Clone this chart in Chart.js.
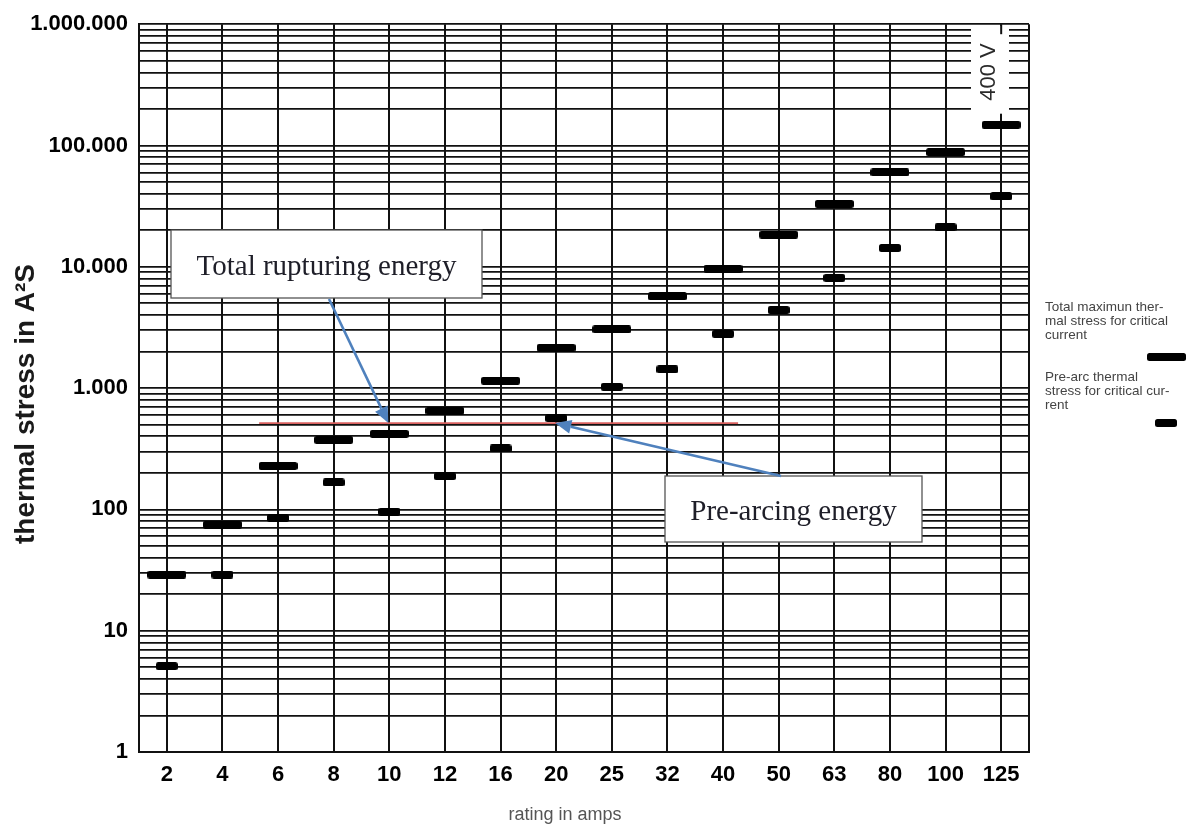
<!DOCTYPE html>
<html><head><meta charset="utf-8">
<script src="https://cdn.jsdelivr.net/npm/chart.js@4.4.1/dist/chart.umd.min.js"></script>
<style>html,body{margin:0;padding:0;background:#fff;}canvas{display:block;}</style>
</head><body>
<canvas id="c" width="1190" height="828"></canvas>
<script>
// ---- data ----
const ratings = ['2','4','6','8','10','12','16','20','25','32','40','50','63','80','100','125'];
const totalStress = [29, 75, 228, 374, 420, 650, 1150, 2150, 3050, 5700, 9650, 18400, 33000, 60000, 88000, 148000];
const preArcStress = [5.1, 29, 85, 167, 96, 188, 318, 566, 1025, 1430, 2800, 4400, 8100, 14300, 21200, 38000];
const yDecades = [1, 10, 100, 1000, 10000, 100000, 1000000];
const yDecadeLabels = ['1', '10', '100', '1.000', '10.000', '100.000', '1.000.000'];
const yMinorSteps = [2, 3, 4, 5, 6, 7, 8, 9];
const refLevel = 515;
const legendTotalLines = ['Total maximun ther-', 'mal stress for critical', 'current'];
const legendPreLines = ['Pre-arc thermal', 'stress for critical cur-', 'rent'];
const xTitle = 'rating in amps';
const yTitle = 'thermal stress in A\u00B2S';
const voltageLabel = '400 V';
const noteTotal = 'Total rupturing energy';
const notePre = 'Pre-arcing energy';

// gridline tick values for log axis
const yTickValues = [];
yDecades.forEach((d, i) => {
  yTickValues.push(d);
  if (i < yDecades.length - 1) yMinorSteps.forEach(m => yTickValues.push(m * d));
});

function barImage(w, h) {
  const c = document.createElement('canvas');
  c.width = w; c.height = h;
  const g = c.getContext('2d');
  g.fillStyle = '#000';
  g.beginPath();
  if (g.roundRect) g.roundRect(0, 0, w, h, 2.5); else g.rect(0, 0, w, h);
  g.fill();
  return c;
}
const totalImg = barImage(39, 8);
const preImg = barImage(22, 8);

const SANS = '"Liberation Sans", Arial, Helvetica, sans-serif';
const SERIF = '"Liberation Serif", "Times New Roman", serif';

function arrow(g, x1, y1, x2, y2) {
  const ang = Math.atan2(y2 - y1, x2 - x1);
  const hl = 16, hw = 7;
  const bx = x2 - Math.cos(ang) * hl, by = y2 - Math.sin(ang) * hl;
  g.strokeStyle = '#4f81bd';
  g.fillStyle = '#4f81bd';
  g.lineWidth = 2.6;
  g.beginPath(); g.moveTo(x1, y1); g.lineTo(bx, by); g.stroke();
  g.beginPath();
  g.moveTo(x2, y2);
  g.lineTo(bx + Math.sin(ang) * hw, by - Math.cos(ang) * hw);
  g.lineTo(bx - Math.sin(ang) * hw, by + Math.cos(ang) * hw);
  g.closePath(); g.fill();
}

function noteBox(g, x, y, w, h, text, baseline) {
  g.fillStyle = '#fff';
  g.fillRect(x, y, w, h);
  g.strokeStyle = '#555';
  g.lineWidth = 1.3;
  g.strokeRect(x, y, w, h);
  g.fillStyle = '#1e1e28';
  g.font = '29px ' + SERIF;
  g.textAlign = 'center';
  g.textBaseline = 'alphabetic';
  g.fillText(text, x + w / 2, baseline);
}

const annotPlugin = {
  id: 'annot',
  afterDraw(chart) {
    const g = chart.ctx, a = chart.chartArea;
    const xs = chart.scales.x, ys = chart.scales.y;
    g.save();
    // right border
    g.strokeStyle = '#111'; g.lineWidth = 2;
    g.beginPath(); g.moveTo(a.right, a.top); g.lineTo(a.right, a.bottom); g.stroke();
    // 400 V box
    const x125 = xs.getPixelForValue(15);
    g.fillStyle = '#fff';
    g.fillRect(971, a.top + 1.5, 38, 88);
    g.strokeStyle = '#111'; g.lineWidth = 2;
    g.beginPath(); g.moveTo(x125, a.top); g.lineTo(x125, a.top + 10); g.stroke();
    g.save();
    g.translate(989, 72);
    g.rotate(-Math.PI / 2);
    g.fillStyle = '#2a2a2a';
    g.font = '22px ' + SANS;
    g.textAlign = 'center'; g.textBaseline = 'middle';
    g.fillText(voltageLabel, 0, 0);
    g.restore();
    // reference red line
    const yRef = ys.getPixelForValue(refLevel);
    g.strokeStyle = '#d9615f'; g.lineWidth = 1.8;
    g.beginPath();
    g.moveTo(xs.getPixelForValue(1.66), yRef);
    g.lineTo(xs.getPixelForValue(10.27), yRef);
    g.stroke();
    // notes
    noteBox(g, 171, 230, 311, 68, noteTotal, 275);
    noteBox(g, 665, 476, 257, 66, notePre, 520);
    arrow(g, 329, 299, xs.getPixelForValue(4) - 1, yRef);
    arrow(g, 781, 476, xs.getPixelForValue(7) - 1, yRef);
    // legend
    g.fillStyle = '#444';
    g.font = '13.5px ' + SANS;
    g.textAlign = 'left'; g.textBaseline = 'middle';
    legendTotalLines.forEach((t, i) => g.fillText(t, 1045, 307 + i * 14.2));
    g.drawImage(totalImg, 1147, 353);
    g.fillStyle = '#444';
    legendPreLines.forEach((t, i) => g.fillText(t, 1045, 377 + i * 14.2));
    g.drawImage(preImg, 1155, 419);
    // axis titles
    g.fillStyle = '#555';
    g.font = '18px ' + SANS;
    g.textAlign = 'center'; g.textBaseline = 'middle';
    g.fillText(xTitle, 565, 815);
    g.save();
    g.translate(26, 404);
    g.rotate(-Math.PI / 2);
    g.fillStyle = '#1a1a1a';
    g.font = 'bold 28px ' + SANS;
    g.fillText(yTitle, 0, 0);
    g.restore();
    g.restore();
  }
};

new Chart(document.getElementById('c'), {
  type: 'line',
  data: {
    labels: ratings,
    datasets: [
      { label: 'Total maximun thermal stress for critical current', data: totalStress, showLine: false,
        pointStyle: totalImg, pointRadius: 10, pointHoverRadius: 10, borderColor: '#000', backgroundColor: '#000' },
      { label: 'Pre-arc thermal stress for critical current', data: preArcStress, showLine: false,
        pointStyle: preImg, pointRadius: 10, pointHoverRadius: 10, borderColor: '#000', backgroundColor: '#000' }
    ]
  },
  options: {
    responsive: false,
    animation: false,
    events: [],
    layout: { padding: { left: 0, right: 161, top: 21, bottom: 0 } },
    plugins: { legend: { display: false }, tooltip: { enabled: false } },
    scales: {
      x: {
        type: 'category',
        offset: true,
        grid: { offset: false, color: '#111', lineWidth: 2, drawTicks: false },
        border: { display: true, color: '#111', width: 2 },
        ticks: { font: { family: SANS, size: 22, weight: 'bold' }, color: '#000', padding: 10, maxRotation: 0, autoSkip: false },
        afterFit: s => { s.height = 76; }
      },
      y: {
        type: 'logarithmic',
        min: 1, max: 1000000,
        afterBuildTicks: s => { s.ticks = yTickValues.map(v => ({ value: v })); },
        grid: { color: '#111', lineWidth: 1.8, drawTicks: false },
        border: { display: true, color: '#111', width: 2 },
        ticks: {
          autoSkip: false,
          font: { family: SANS, size: 22, weight: 'bold' }, color: '#000', padding: 11,
          callback: v => { const i = yDecades.indexOf(v); return i >= 0 ? yDecadeLabels[i] : ''; }
        },
        afterFit: s => { s.width = 139; }
      }
    }
  },
  plugins: [annotPlugin]
});
</script>
</body></html>
